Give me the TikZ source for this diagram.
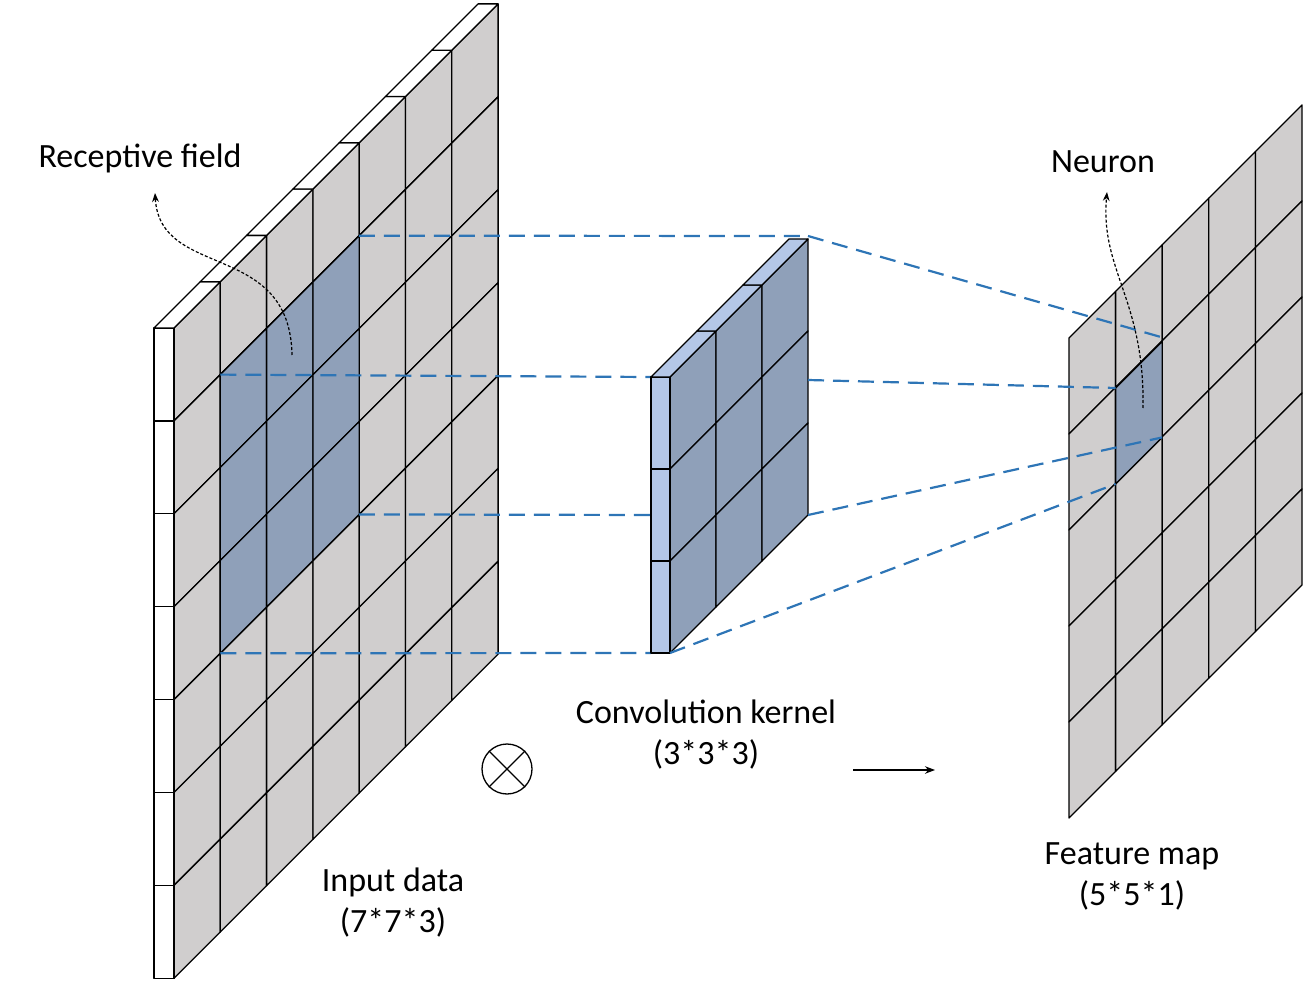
\documentclass[tikz,border=0pt]{standalone}
\usepackage{fontspec}
\setmainfont{Carlito}
\usetikzlibrary{arrows.meta}
\definecolor{cellgray}{HTML}{D0CECE}
\definecolor{fielddark}{HTML}{8FA0B9}
\definecolor{kernlight}{HTML}{B4C7E7}
\definecolor{linkblue}{HTML}{2E75B6}
\tikzset{
  cell/.style={draw=black, line width=1.3pt, fill=cellgray, line join=round},
  darkcell/.style={cell, fill=fielddark},
  strip/.style={draw=black, line width=1.3pt, fill=white, line join=round},
  kstrip/.style={strip, fill=kernlight},
  link/.style={draw=linkblue, line width=2.2pt, dash pattern=on 16pt off 9pt},
  hint/.style={draw=black, line width=1.2pt, densely dashed, -{Stealth[length=9pt]}},
  lbl/.style={font=\fontsize{34}{41}\selectfont, align=center}
}
\begin{document}
\begin{tikzpicture}[x=1pt, y=-1pt]
	\useasboundingbox (0,0) rectangle (1304,981);
	
	% input data
	\foreach \i in {0,...,6}
		\foreach \j in {0,...,6}
			\draw[cell] ({174+\i*46.3},{328+\j*92.9-\i*46.3}) -- ++(46.3,-46.3) -- ++(0,92.9) -- ++(-46.3,46.3) -- cycle;
	\foreach \i in {1,2,3}
		\foreach \j in {1,2,3}
			\draw[darkcell] ({174+\i*46.3},{328+\j*92.9-\i*46.3}) -- ++(46.3,-46.3) -- ++(0,92.9) -- ++(-46.3,46.3) -- cycle;
	\foreach \j in {0,...,6}
		\draw[strip] (154,{328+\j*92.9}) rectangle (174,{328+(\j+1)*92.9});
	\foreach \i in {0,...,6}
		\draw[strip] ({174+\i*46.3},{328-\i*46.3}) -- ++(46.3,-46.3) -- ++(-20,0) -- ++(-46.3,46.3) -- cycle;
	
	\coordinate (f1) at (358.9,235.7);
	\coordinate (f2) at (220.3,374.6);
	\coordinate (f3) at (358.9,514.4);
	\coordinate (f4) at (220.3,653.3);
	\coordinate (k1) at (808,236);
	\coordinate (k2) at (651,377);
	\coordinate (k3) at (651,515);
	\coordinate (k4) at (651,653);
	\coordinate (k2r) at (808,380);
	\coordinate (k3r) at (808,515);
	\coordinate (k4r) at (670,653);
	
	% links behind the kernel
	\draw[link] (f1) -- (k1);
	\draw[link] (f2) -- (k2);
	\draw[link] (f3) -- (k3);
	\draw[link] (f4) -- (k4);
	
	% kernel
	\foreach \i in {0,1,2}
		\foreach \j in {0,1,2}
			\draw[darkcell] ({670+\i*46},{377+\j*92-\i*46}) -- ++(46,-46) -- ++(0,92) -- ++(-46,46) -- cycle;
	\foreach \j in {0,1,2}
		\draw[kstrip] (651,{377+\j*92}) rectangle (670,{377+(\j+1)*92});
	\foreach \i in {0,1,2}
		\draw[kstrip] ({670+\i*46},{377-\i*46}) -- ++(46,-46) -- ++(-19,0) -- ++(-46,46) -- cycle;
	
	% feature map
	\foreach \i in {0,...,4}
		\foreach \j in {0,...,4}
			\draw[cell] ({1069+\i*46.6},{338+\j*96-\i*46.6}) -- ++(46.6,-46.6) -- ++(0,96) -- ++(-46.6,46.6) -- cycle;
	\draw[darkcell] (1115.6,388) -- ++(46.6,-46.6) -- ++(0,96) -- ++(-46.6,46.6) -- cycle;
	
	\coordinate (n1) at (1162.2,337.4);
	\coordinate (n2) at (1115.6,388);
	\coordinate (n3) at (1162.2,437.4);
	\coordinate (n4) at (1115.6,484);
	
	% links to the neuron
	\draw[link] (k1) -- (n1);
	\draw[link] (k2r) -- (n2);
	\draw[link] (k3r) -- (n3);
	\draw[link] (k4r) -- (n4);
	
	% labels
	\node[lbl] (field) at (140,158) {Receptive field};
	\node[lbl] (neuron) at (1103,162) {Neuron};
	\node[lbl] (input) at (393,903) {Input data\\(7*7*3)};
	\node[lbl] (kernel) at (706,735) {Convolution kernel\\(3*3*3)};
	\node[lbl] (fmap) at (1132,876) {Feature map\\(5*5*1)};
	
	\coordinate (fs) at (292,355);
	\coordinate (ns) at (1143,408);
	\draw[hint] (fs) .. controls (290,240) and (160,280) .. (155,193);
	\draw[hint] (ns) .. controls (1145,300) and (1100,270) .. (1107,192);
	
	\node[draw, circle, line width=1.3pt, minimum size=50pt, inner sep=0pt] (otimes) at (507,769) {};
	\draw[line width=1.3pt] (otimes.north west) -- (otimes.south east);
	\draw[line width=1.3pt] (otimes.north east) -- (otimes.south west);
	
	\coordinate (a1) at (853,770);
	\coordinate (a2) at (935,770);
	\draw[line width=1.3pt, -{Stealth[length=10pt]}] (a1) -- (a2);
	
\end{tikzpicture}
\end{document}
